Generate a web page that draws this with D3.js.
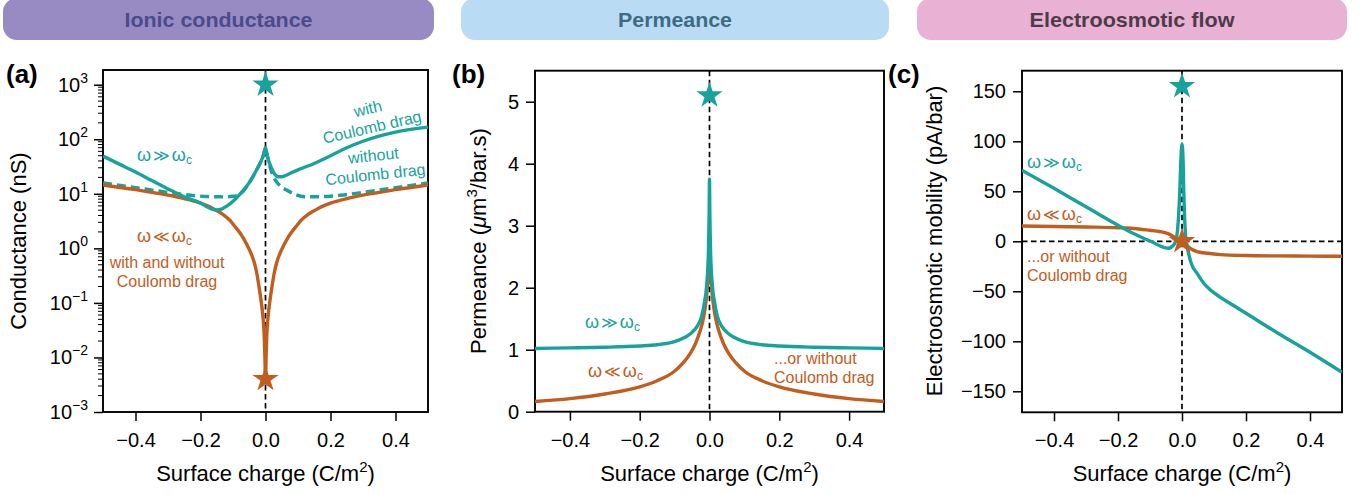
<!DOCTYPE html>
<html>
<head>
<meta charset="utf-8">
<script src="https://cdn.jsdelivr.net/npm/d3@7"></script>
<style>
  body { margin: 0; background: #fff; }
  svg { font-family: "Liberation Sans", Arial, "DejaVu Sans", sans-serif; }
</style>
</head>
<body>
<div id="chart"></div>
<script>
// Surface charge grid points (C/m^2) and values

// (a) ionic conductance (nS)
var sigA_drag = [-0.5, -0.45, -0.4, -0.35, -0.3, -0.25, -0.2, -0.18, -0.165, -0.15, -0.135, -0.12, -0.1, -0.079, -0.05, -0.028, -0.015, -0.006, 0,
                 0.004, 0.01, 0.018, 0.028, 0.039, 0.05, 0.075, 0.1, 0.15, 0.2, 0.25, 0.3, 0.4, 0.5];
var condFastDrag = [49, 35, 25, 17.5, 12.3, 8.8, 6.8, 5.8, 5.25, 5.05, 5.25, 5.9, 7.3, 9.8, 16, 27, 38, 52, 70,
                    55, 40, 30, 23, 20.5, 20.6, 23.6, 27.5, 36, 50, 70, 92, 135, 167];
var sigA_nodrag = [-0.5, -0.4, -0.3, -0.23, -0.18, -0.13, -0.1, -0.079, -0.05, -0.028, -0.015, -0.006, 0,
                   0.004, 0.01, 0.02, 0.03, 0.045, 0.065, 0.09, 0.126, 0.18, 0.23, 0.3, 0.4, 0.5];
var condFastNoDrag = [15.8, 13, 10.6, 9.4, 8.9, 8.8, 9.0, 9.8, 16, 27, 38, 52, 70,
                      55, 38, 24, 18, 14, 11.7, 9.8, 8.8, 8.9, 9.4, 10.6, 13, 15.8];
var sigA_slow = [-0.5, -0.4, -0.3, -0.25, -0.2, -0.17, -0.15, -0.13, -0.11, -0.1, -0.09, -0.07, -0.055, -0.045, -0.035, -0.028, -0.02, -0.013, -0.008, -0.004, -0.002, 0,
                 0.002, 0.004, 0.008, 0.013, 0.02, 0.028, 0.035, 0.045, 0.055, 0.07, 0.09, 0.1, 0.11, 0.13, 0.15, 0.17, 0.2, 0.25, 0.3, 0.4, 0.5];
var condSlow = [14.5, 11.9, 9.46, 8.17, 6.75, 5.7, 4.9, 4.15, 3.29, 2.78, 2.35, 1.61, 1.10, 0.82, 0.56, 0.38, 0.20, 0.103, 0.057, 0.0255, 0.011, 0.004,
                0.011, 0.0255, 0.057, 0.103, 0.20, 0.38, 0.56, 0.82, 1.10, 1.61, 2.35, 2.78, 3.29, 4.15, 4.9, 5.7, 6.75, 8.17, 9.46, 11.9, 14.5];
var condTicks = [1e-3, 1e-2, 1e-1, 1e0, 1e1, 1e2, 1e3];
var condExps = ["\u22123", "\u22122", "\u22121", "0", "1", "2", "3"];

// (b) permeance (um^3/bar.s)
var sigB = [-0.5, -0.4, -0.3, -0.2, -0.15, -0.1, -0.07, -0.05, -0.035, -0.022, -0.015, -0.008, -0.003, -0.001, 0,
            0.001, 0.003, 0.008, 0.015, 0.022, 0.035, 0.05, 0.07, 0.1, 0.15, 0.2, 0.3, 0.4, 0.5];
var permFast = [1.02, 1.03, 1.04, 1.06, 1.08, 1.13, 1.2, 1.28, 1.38, 1.55, 1.75, 2.05, 2.6, 3.2, 3.75,
                3.2, 2.6, 2.05, 1.75, 1.55, 1.38, 1.28, 1.2, 1.13, 1.08, 1.06, 1.04, 1.03, 1.02];
var sigB_slow = [-0.5, -0.4, -0.3, -0.2, -0.15, -0.103, -0.075, -0.055, -0.04, -0.027, -0.017, -0.01, -0.005, 0,
                 0.005, 0.01, 0.017, 0.027, 0.04, 0.055, 0.075, 0.103, 0.15, 0.2, 0.3, 0.4, 0.5];
var permSlow = [0.165, 0.21, 0.285, 0.4, 0.5, 0.64, 0.79, 0.94, 1.1, 1.3, 1.52, 1.78, 2.08, 2.45,
                2.08, 1.78, 1.52, 1.3, 1.1, 0.94, 0.79, 0.64, 0.5, 0.4, 0.285, 0.21, 0.165];
var permTicks = [0, 1, 2, 3, 4, 5];

// (c) electroosmotic mobility (pA/bar)
var sigC = [-0.5, -0.4, -0.3, -0.2, -0.15, -0.12, -0.094, -0.07, -0.055, -0.042, -0.03, -0.02, -0.014, -0.0075, -0.003, 0,
            0.003, 0.006, 0.01, 0.016, 0.022, 0.03, 0.047, 0.068, 0.09, 0.12, 0.16, 0.2, 0.3, 0.4, 0.5];
var eoFast = [71, 53, 34.5, 16, 7.5, 3, -0.5, -4.5, -6.3, -7, -5, 0, 11, 45, 85, 97,
              85, 45, 11, -5, -14, -23, -32, -42, -49, -56, -64, -72, -92, -111, -131];
var sigC_slow = [-0.5, -0.4, -0.3, -0.2, -0.15, -0.1, -0.07, -0.047, -0.03, -0.02, -0.01, 0,
                 0.01, 0.02, 0.03, 0.05, 0.08, 0.12, 0.2, 0.3, 0.4, 0.5];
var eoSlow = [15.3, 14.8, 14.3, 13.6, 12.8, 11, 9.8, 8, 5.5, 3, 1.2, 0,
              -2.5, -5.5, -8, -10.5, -12, -13.3, -14.2, -14.6, -14.8, -15];
var eoTicks = [-150, -100, -50, 0, 50, 100, 150];

var xTicks = [-0.4, -0.2, 0.0, 0.2, 0.4];

var teal = "#17a29c", orange = "#c15d1d";

var svg = d3.select("#chart").append("svg")
    .attr("width", 1369)
    .attr("height", 494);

// Header banners
var banners = [
    {x: 3, w: 431, fill: "#988bc4", color: "#4b4a8b", text: "Ionic conductance", len: 188},
    {x: 461, w: 428, fill: "#b9dcf4", color: "#3d6b85", text: "Permeance", len: 114},
    {x: 917, w: 430, fill: "#e9b1d3", color: "#4d3b4b", text: "Electroosmotic flow", len: 205}
];
banners.forEach(function(b) {
    svg.append("rect")
        .attr("x", b.x).attr("y", -2)
        .attr("width", b.w).attr("height", 42)
        .attr("rx", 14)
        .attr("fill", b.fill);
    svg.append("text")
        .attr("x", b.x + b.w / 2).attr("y", 27)
        .attr("text-anchor", "middle")
        .attr("textLength", b.len)
        .attr("lengthAdjust", "spacingAndGlyphs")
        .style("font-size", "21px")
        .style("font-weight", "bold")
        .style("fill", b.color)
        .text(b.text);
});

// Build one panel: frame, axes, and return scales + group
function makePanel(opt) {
    var g = svg.append("g");
    var x = d3.scaleLinear().domain([-0.5, 0.5]).range([opt.left, opt.right]);
    var y = opt.y;

    g.append("clipPath").attr("id", "clip" + opt.id)
        .append("rect")
        .attr("x", opt.left).attr("y", opt.top)
        .attr("width", opt.right - opt.left).attr("height", opt.bottom - opt.top);

    // x axis
    var xAxis = d3.axisBottom(x).tickValues(xTicks).tickFormat(d3.format(".1f"))
        .tickSize(9).tickPadding(12);
    var xg = g.append("g").attr("transform", "translate(0," + opt.bottom + ")").call(xAxis);
    xg.select(".domain").remove();
    xg.selectAll("line").attr("stroke", "#000").attr("stroke-width", 1.5);
    xg.selectAll("text").style("font-size", "20px").style("fill", "#000")
        .attr("font-family", "Liberation Sans, Arial, sans-serif");

    // y axis
    var yAxis = d3.axisLeft(y).tickValues(opt.yTicks).tickSize(9).tickPadding(7);
    if (opt.yFormat) yAxis.tickFormat(opt.yFormat);
    var yg = g.append("g").attr("transform", "translate(" + opt.left + ",0)").call(yAxis);
    yg.select(".domain").remove();
    yg.selectAll("line").attr("stroke", "#000").attr("stroke-width", 1.5);
    yg.selectAll("text").style("font-size", "20px").style("fill", "#000")
        .attr("font-family", "Liberation Sans, Arial, sans-serif");

    // frame
    g.append("rect")
        .attr("x", opt.left).attr("y", opt.top)
        .attr("width", opt.right - opt.left).attr("height", opt.bottom - opt.top)
        .attr("fill", "none").attr("stroke", "#000").attr("stroke-width", 1.9);

    // panel label
    svg.append("text")
        .attr("x", opt.labelX).attr("y", 83)
        .style("font-size", "26px").style("font-weight", "bold")
        .text(opt.label);

    // x label
    var xl = svg.append("text")
        .attr("x", (opt.left + opt.right) / 2).attr("y", 481)
        .attr("text-anchor", "middle")
        .style("font-size", "22px");
    xl.append("tspan").text("Surface charge (C/m");
    xl.append("tspan").attr("dy", -9).style("font-size", "15px").text("2");
    xl.append("tspan").attr("dy", 9).text(")");

    return {g: g, x: x, y: y, clip: "url(#clip" + opt.id + ")"};
}

function drawLine(p, xs, ys, color, dash) {
    var pts = xs.map(function(d, i) { return [d, ys[i]]; });
    var line = d3.line()
        .x(function(d) { return p.x(d[0]); })
        .y(function(d) { return p.y(d[1]); })
        .curve(d3.curveMonotoneX);
    p.g.append("path")
        .attr("clip-path", p.clip)
        .attr("d", line(pts))
        .attr("fill", "none")
        .attr("stroke", color)
        .attr("stroke-width", 3.4)
        .attr("stroke-dasharray", dash || null)
        .attr("stroke-linejoin", "round");
}

function vDash(p, top, bottom) {
    p.g.append("line")
        .attr("x1", p.x(0)).attr("x2", p.x(0))
        .attr("y1", top).attr("y2", bottom)
        .attr("stroke", "#000").attr("stroke-width", 1.7)
        .attr("stroke-dasharray", "5.5,3.5");
}

function star(p, yv, color) {
    p.g.append("path")
        .attr("d", d3.symbol().type(d3.symbolStar).size(215)())
        .attr("transform", "translate(" + p.x(0) + "," + p.y(yv) + ")")
        .attr("fill", color);
}

function note(x, y, color, lines, anchor, rot) {
    var t = svg.append("text")
        .attr("transform", "translate(" + x + "," + y + ")" + (rot ? " rotate(" + rot + ")" : ""))
        .attr("text-anchor", anchor || "start")
        .style("font-size", "16px")
        .style("fill", color);
    lines.forEach(function(s, i) {
        t.append("tspan").attr("x", 0).attr("dy", i === 0 ? 0 : 19).text(s);
    });
}

function omega(x, y, color, rel) {
    var t = svg.append("text").attr("x", x).attr("y", y)
        .style("font-size", "18px").style("fill", color);
    t.append("tspan").text("\u03c9");
    t.append("tspan").attr("dx", 2).attr("font-family", "DejaVu Sans").style("font-size", "16px").text(rel);
    t.append("tspan").attr("dx", 2).text("\u03c9");
    t.append("tspan").attr("dy", 3).style("font-size", "12px").text("c");
}

function yLabel(x, parts) {
    var t = svg.append("text")
        .attr("transform", "translate(" + x + ",241) rotate(-90)")
        .attr("text-anchor", "middle")
        .style("font-size", "22px");
    parts.forEach(function(p) {
        var s = t.append("tspan").text(p.t);
        if (p.dy) s.attr("dy", p.dy);
        if (p.size) s.style("font-size", p.size);
        if (p.italic) s.style("font-style", "italic");
    });
}

// ---- Panel (a)
var pa = makePanel({
    id: "a", left: 103, right: 428, top: 70, bottom: 412, label: "(a)", labelX: 6,
    y: d3.scaleLog().domain([1e-3, 1860]).range([412, 70]),
    yTicks: condTicks, yFormat: function() { return ""; }
});
// minor log ticks
var minors = [];
for (var e = -3; e <= 3; e++) for (var m = 2; m <= 9; m++) {
    if (m * Math.pow(10, e) < 1860) minors.push(m * Math.pow(10, e));
}
pa.g.selectAll(".minor").data(minors).enter().append("line")
    .attr("x1", 103).attr("x2", 98)
    .attr("y1", function(d) { return pa.y(d); }).attr("y2", function(d) { return pa.y(d); })
    .attr("stroke", "#000").attr("stroke-width", 1);
condTicks.forEach(function(d, i) {
    var t = svg.append("text").attr("x", 88).attr("y", pa.y(d) + 7)
        .attr("text-anchor", "end").style("font-size", "20px");
    t.append("tspan").text("10");
    t.append("tspan").attr("dy", -9).style("font-size", "14px").text(condExps[i]);
});
vDash(pa, 70, 412);
drawLine(pa, sigA_nodrag, condFastNoDrag, teal, "9,5");
drawLine(pa, sigA_slow, condSlow, orange);
drawLine(pa, sigA_drag, condFastDrag, teal);
star(pa, 1000, teal);
star(pa, 0.004, orange);
yLabel(26, [{t: "Conductance (nS)"}]);
omega(137, 161, teal, "\u226b");
omega(137, 242, orange, "\u226a");
note(167, 268, orange, ["with and without", "Coulomb drag"], "middle");
note(369, 114, teal, ["with", "Coulomb drag"], "middle", -13);
note(374, 161, teal, ["without", "Coulomb drag"], "middle", -6);

// ---- Panel (b)
var pb = makePanel({
    id: "b", left: 535, right: 884, top: 70.7, bottom: 411.7, label: "(b)", labelX: 452,
    y: d3.scaleLinear().domain([0, 5.5]).range([411.7, 70.7]),
    yTicks: permTicks, yFormat: d3.format("d")
});
vDash(pb, 70.7, 411.7);
drawLine(pb, sigB_slow, permSlow, orange);
drawLine(pb, sigB, permFast, teal);
star(pb, 5.1, teal);
yLabel(486, [{t: "Permeance ("}, {t: "\u03bc", italic: true}, {t: "m"}, {t: "3", dy: -9, size: "15px"}, {t: "/bar.s)", dy: 9}]);
omega(585, 328, teal, "\u226b");
omega(588, 377, orange, "\u226a");
note(774, 364, orange, ["...or without", "Coulomb drag"]);

// ---- Panel (c)
var pc = makePanel({
    id: "c", left: 1022, right: 1342, top: 70.7, bottom: 412.3, label: "(c)", labelX: 888,
    y: d3.scaleLinear().domain([-171, 170.6]).range([412.3, 70.7]),
    yTicks: eoTicks, yFormat: d3.format("d")
});
vDash(pc, 70.7, 412.3);
pc.g.append("line")
    .attr("x1", 1022).attr("x2", 1342)
    .attr("y1", pc.y(0)).attr("y2", pc.y(0))
    .attr("stroke", "#000").attr("stroke-width", 1.7)
    .attr("stroke-dasharray", "5.5,3.5");
drawLine(pc, sigC_slow, eoSlow, orange);
drawLine(pc, sigC, eoFast, teal);
star(pc, 155, teal);
star(pc, 0, orange);
yLabel(942, [{t: "Electroosmotic mobility (pA/bar)"}]);
omega(1027, 168, teal, "\u226b");
omega(1027, 220, orange, "\u226a");
note(1027, 262, orange, ["...or without", "Coulomb drag"]);
</script>
</body>
</html>
